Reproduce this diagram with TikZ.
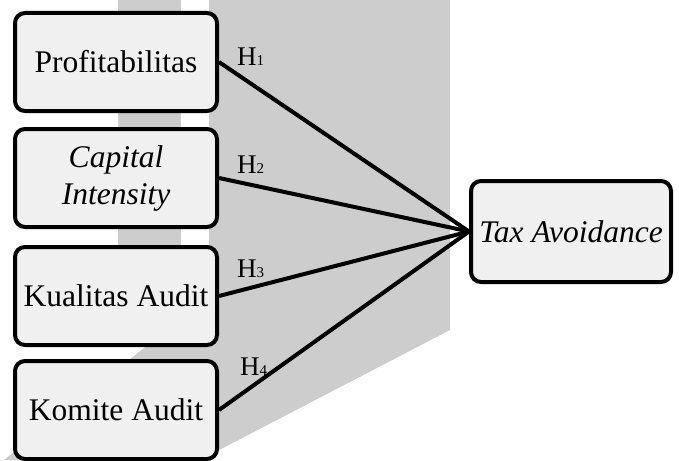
\documentclass[tikz,border=0pt]{standalone}
\usepackage{fontspec}
\setmainfont{Liberation Serif}
\definecolor{bgband}{RGB}{205,205,205}
\definecolor{boxfill}{RGB}{240,240,240}
\newcommand{\hyplabel}[1]{H{\fontsize{15}{15}\selectfont #1}}
\begin{document}
\begin{tikzpicture}[x=1pt,y=-1pt,
  varbox/.style={draw=black, line width=4pt, fill=boxfill, rounded corners=10pt,
    minimum width=202pt, minimum height=98pt, inner sep=0pt, align=center,
    font=\fontsize{31.5}{37}\selectfont},
  link/.style={line width=4pt},
  hyp/.style={anchor=base west, inner sep=0pt, font=\fontsize{27}{27}\selectfont}]
\useasboundingbox (0,0) rectangle (679,460);
% background bands
\fill[bgband] (118,0) rectangle (181,320);
\fill[bgband] (209,0) -- (450,0) -- (450,330) -- (200,460) -- (4,460) -- (209,296) -- cycle;
% nodes
\node[varbox] (p) at (116,62) {Profitabilitas};
\node[varbox] (c) at (116,178) {\itshape Capital\\\itshape Intensity};
\node[varbox] (k) at (116,296) {Kualitas Audit};
\node[varbox] (m) at (116,410) {Komite Audit};
\node[varbox, minimum width=200pt, minimum height=101pt] (t) at (571,231.5) {\itshape Tax Avoidance};
% connectors
\draw[link] (p.east) -- (t.west);
\draw[link] (c.east) -- (t.west);
\draw[link] (k.east) -- (t.west);
\draw[link] (m.east) -- (t.west);
% labels
\node[hyp] (h1) at (237,66) {\hyplabel{1}};
\node[hyp] (h2) at (237,173) {\hyplabel{2}};
\node[hyp] (h3) at (237,277) {\hyplabel{3}};
\node[hyp] (h4) at (240,375) {\hyplabel{4}};
\end{tikzpicture}
\end{document}
